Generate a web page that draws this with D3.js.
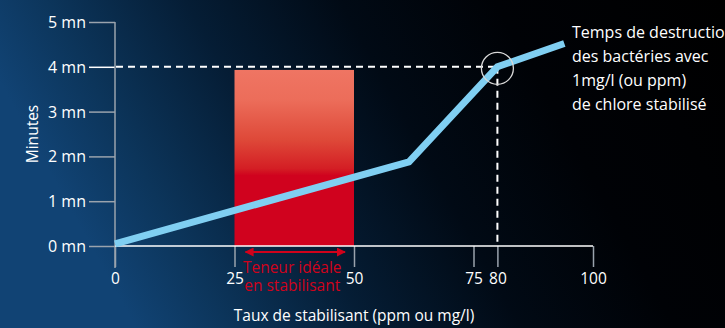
<!DOCTYPE html>
<html><head><meta charset="utf-8">
<script src="https://cdn.jsdelivr.net/npm/d3@7"></script>
<style>html,body{margin:0;padding:0;background:#000;overflow:hidden}svg{display:block}text{font-family:"Open Sans",sans-serif}</style>
</head><body>
<svg id="c" width="725" height="328"></svg>
<script>
const xTicks = [0, 25, 50, 75, 80, 100];
const yTicks = [0, 1, 2, 3, 4, 5];
const yTickLabels = ["0 mn", "1 mn", "2 mn", "3 mn", "4 mn", "5 mn"];
const lineX = [0, 61.5, 80, 94];
const lineY = [0.05, 1.88, 4, 4.52];
const idealRange = [25, 50];
const idealTop = 3.93;
const marker = {x: 80, y: 4};
const xTitle = "Taux de stabilisant (ppm ou mg/l)";
const yTitle = "Minutes";
const idealLabel = ["Teneur idéale", "en stabilisant"];
const note = ["Temps de destruction", "des bactéries avec", "1mg/l (ou ppm)", "de chlore stabilisé"];

const svg = d3.select("#c");
const W = 725, H = 328;
const x = d3.scaleLinear().domain([0, 100]).range([115, 593]);
const y = d3.scaleLinear().domain([0, 5]).range([246, 22]);

const defs = svg.append("defs");
const bg = defs.append("linearGradient").attr("id", "bg").attr("x1", 0).attr("x2", 1).attr("y1", 0.25).attr("y2", 0);
[[0, "#114374"], [0.12, "#0c355b"], [0.3, "#051d35"], [0.5, "#010a15"], [0.7, "#000206"], [1, "#000"]]
  .forEach(([o, c]) => bg.append("stop").attr("offset", o).attr("stop-color", c));
const rg = defs.append("linearGradient").attr("id", "rg").attr("x1", 0).attr("x2", 0).attr("y1", 0).attr("y2", 1);
[[0, "#ef7563"], [0.17, "#ec6d5a"], [0.4, "#de4838"], [0.56, "#d41e24"], [0.6, "#d0021e"], [1, "#d0021e"]]
  .forEach(([o, c]) => rg.append("stop").attr("offset", o).attr("stop-color", c));
const am = defs.append("marker").attr("id", "ah").attr("viewBox", "0 0 10 10").attr("refX", 9).attr("refY", 5)
  .attr("markerWidth", 9).attr("markerHeight", 9).attr("markerUnits", "userSpaceOnUse").attr("orient", "auto-start-reverse");
am.append("path").attr("d", "M0,0L10,5L0,10z").attr("fill", "#d0021b");

svg.append("rect").attr("width", W).attr("height", H).attr("fill", "url(#bg)");

// ideal band
svg.append("rect").attr("x", x(idealRange[0])).attr("y", y(idealTop))
  .attr("width", x(idealRange[1]) - x(idealRange[0])).attr("height", y(0) - y(idealTop))
  .attr("fill", "url(#rg)");

// y axis
const yAxis = d3.axisLeft(y).tickValues(yTicks).tickFormat((d, i) => yTickLabels[i]).tickSize(26).tickPadding(3);
const gy = svg.append("g").attr("transform", `translate(${x(0)},0)`).call(yAxis);
gy.select(".domain").remove();
gy.selectAll(".tick line").attr("stroke", d => d === 4 ? "#fff" : "#9aa3ad").attr("stroke-width", 1.5);
gy.selectAll(".tick text").attr("fill", "#fff").attr("font-size", 16).attr("dy", "0.34em");
svg.append("line").attr("x1", x(0)).attr("x2", x(0)).attr("y1", y(5)).attr("y2", y(0) + 22)
  .attr("stroke", "#9aa3ad").attr("stroke-width", 1.5);

// x axis
const xAxis = d3.axisBottom(x).tickValues(xTicks).tickSize(21).tickPadding(6);
const gx = svg.append("g").attr("transform", `translate(0,${y(0)})`).call(xAxis);
gx.select(".domain").remove();
gx.selectAll(".tick line").attr("stroke", "#9aa3ad").attr("stroke-width", 1.5);
gx.selectAll(".tick text").attr("fill", "#fff").attr("font-size", 15.5);
svg.append("line").attr("x1", x(0)).attr("x2", x(100)).attr("y1", y(0)).attr("y2", y(0))
  .attr("stroke", "#fff").attr("stroke-width", 1.5);

// dashed guides
svg.append("line").attr("x1", x(0) + 1).attr("x2", x(marker.x)).attr("y1", y(marker.y)).attr("y2", y(marker.y))
  .attr("stroke", "#fff").attr("stroke-width", 2).attr("stroke-dasharray", "7,5");
svg.append("line").attr("x1", x(marker.x)).attr("x2", x(marker.x)).attr("y1", y(marker.y)).attr("y2", y(0))
  .attr("stroke", "#fff").attr("stroke-width", 2).attr("stroke-dasharray", "7,5");

// data line
const pts = lineX.map((d, i) => [d, lineY[i]]);
svg.append("path").datum(pts).attr("fill", "none").attr("stroke", "#80cff2").attr("stroke-width", 7)
  .attr("stroke-linejoin", "miter").attr("d", d3.line().x(d => x(d[0])).y(d => y(d[1])));

// marker circle
svg.append("circle").attr("cx", x(marker.x)).attr("cy", y(marker.y) + 1.5).attr("r", 16)
  .attr("fill", "none").attr("stroke", "#d8d8d8").attr("stroke-width", 1.3);

// ideal annotation
const ay = y(0) + 6;
svg.append("line").attr("x1", x(idealRange[0]) + 11).attr("x2", x(idealRange[1]) - 9).attr("y1", ay).attr("y2", ay)
  .attr("stroke", "#d0021b").attr("stroke-width", 2)
  .attr("marker-start", "url(#ah)").attr("marker-end", "url(#ah)");
const cx = (x(idealRange[0]) + x(idealRange[1])) / 2 - 2;
svg.append("text").attr("x", cx).attr("y", 273).attr("text-anchor", "middle").attr("fill", "#d0021b").attr("font-size", 15.5).text(idealLabel[0]);
svg.append("text").attr("x", cx).attr("y", 291).attr("text-anchor", "middle").attr("fill", "#d0021b").attr("font-size", 15.5).text(idealLabel[1]);

// titles
svg.append("text").attr("x", 354).attr("y", 321).attr("text-anchor", "middle").attr("fill", "#fff").attr("font-size", 15.5).text(xTitle);
svg.append("text").attr("transform", "translate(38,134) rotate(-90)").attr("text-anchor", "middle").attr("fill", "#fff").attr("font-size", 15.5).text(yTitle);

// note
note.forEach((t, i) => svg.append("text").attr("x", 572).attr("y", 38 + i * 24).attr("fill", "#fff").attr("font-size", 16).text(t));
</script>
</body></html>
